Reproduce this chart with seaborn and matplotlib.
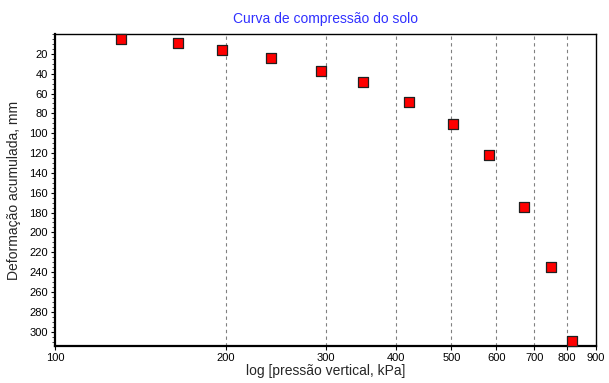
import pandas as pd
import matplotlib
matplotlib.use('Agg')
import matplotlib.pyplot as plt
from matplotlib.ticker import FixedLocator, MultipleLocator, NullFormatter
import seaborn as sns

# pressão vertical (kPa) e deformação acumulada (mm)
pressao = [131, 165, 197, 240, 295, 349, 421, 504, 583, 672, 750, 817]
deformacao = [4.9, 9.0, 16.4, 24.4, 37.5, 48.6, 68.7, 91.1, 122.3, 174.6, 235.0, 309.5]
x_ticks = [100, 200, 300, 400, 500, 600, 700, 800, 900]
grid_ticks = [200, 300, 400, 500, 600, 700, 800]
y_ticks = list(range(20, 301, 20))


def main():
    sns.set_style('white')
    plt.rcParams['font.family'] = ['Liberation Sans', 'DejaVu Sans']

    data = pd.DataFrame({'pressao': pressao, 'deformacao': deformacao})

    fig = plt.figure(figsize=(6.09, 3.83), dpi=100)
    ax = fig.add_axes([0.0903, 0.0966, 0.8884, 0.8146])

    ax.set_xscale('log')
    for g in grid_ticks:
        ax.axvline(g, color='#808080', linestyle=(0, (3, 3)), linewidth=0.8, zorder=1)

    sns.scatterplot(x='pressao', y='deformacao', data=data, marker='s', s=48,
                    color='#ff0000', edgecolor='#202020', linewidth=0.9, ax=ax, zorder=3,
                    clip_on=False)

    ax.set_xlim(100, 900)
    ax.set_ylim(314.5, 0)
    ax.xaxis.set_major_locator(FixedLocator(x_ticks))
    ax.xaxis.set_minor_locator(FixedLocator([]))
    ax.set_xticklabels([str(t) for t in x_ticks])
    ax.xaxis.set_minor_formatter(NullFormatter())
    ax.set_yticks(y_ticks)
    ax.yaxis.set_minor_locator(MultipleLocator(5))

    ax.tick_params(axis='both', which='major', direction='out', length=3, width=0.8,
                   labelsize=8, colors='black', bottom=True, left=True, pad=2)
    ax.tick_params(axis='y', which='minor', direction='out', length=2, width=0.6, left=True)

    for side in ['left', 'bottom']:
        ax.spines[side].set_linewidth(1.6)
        ax.spines[side].set_color('black')
    for side in ['top', 'right']:
        ax.spines[side].set_linewidth(1.0)
        ax.spines[side].set_color('black')

    ax.set_title('Curva de compressão do solo', color='#3030ff', fontsize=10, pad=8)
    ax.set_xlabel('log [pressão vertical, kPa]', fontsize=10, labelpad=1)
    ax.set_ylabel('Deformação acumulada, mm', fontsize=10, labelpad=6)

    plt.savefig('out.png', dpi=100)


if __name__ == "__main__":
    main()
